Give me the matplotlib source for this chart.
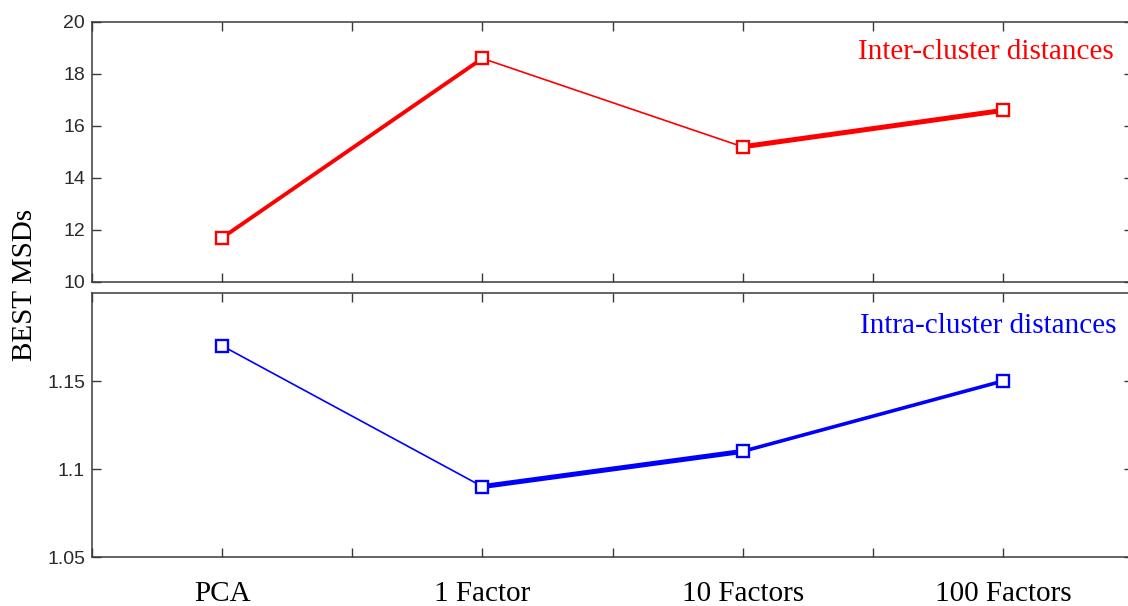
import matplotlib
matplotlib.use("Agg")
import matplotlib.pyplot as plt

categories = ["PCA", "1 Factor", "10 Factors", "100 Factors"]
inter_values = [11.7, 18.6, 15.2, 16.6]
intra_values = [1.17, 1.09, 1.11, 1.15]
inter_label = "Inter-cluster distances"
intra_label = "Intra-cluster distances"
ylabel = "BEST MSDs"
top_yticks = [10, 12, 14, 16, 18, 20]
bottom_yticks = [1.05, 1.1, 1.15]
bottom_yticklabels = ["1.05", "1.1", "1.15"]

# segment line widths (style)
inter_widths = [2.8, 1.2, 3.6]
intra_widths = [1.2, 3.6, 2.6]

W, H = 1128, 606
fig = plt.figure(figsize=(W / 100, H / 100), dpi=100)

def px_axes(left, top, right, bottom):
    return fig.add_axes([left / W, 1 - bottom / H, (right - left) / W, (bottom - top) / H])

ax1 = px_axes(92, 22, 1133, 282)
ax2 = px_axes(92, 293, 1133, 557)

xs = list(range(1, len(categories) + 1))
serif = "Liberation Serif"
sans = "Liberation Sans"
spine_col = "#3a3a3a"

def draw(ax, vals, widths, color):
    for i in range(len(vals) - 1):
        ax.plot(xs[i:i + 2], vals[i:i + 2], color=color, lw=widths[i],
                solid_capstyle="round", zorder=2)
    ax.plot(xs, vals, linestyle="none", marker="s", markersize=9,
            markerfacecolor="white", markeredgecolor=color, markeredgewidth=1.7, zorder=3)

draw(ax1, inter_values, inter_widths, "#ff0000")
draw(ax2, intra_values, intra_widths, "#0000ff")

ticks = [0.5 + 0.5 * i for i in range(9)]
for ax in (ax1, ax2):
    ax.set_xlim(0.5, 4.5)
    ax.set_xticks(ticks)
    ax.tick_params(direction="in", length=6.5, width=1.0, color=spine_col,
                   top=True, right=True, pad=5)
    for s in ax.spines.values():
        s.set_color(spine_col)
        s.set_linewidth(1.1)

ax1.set_ylim(10, 20)
ax1.set_yticks(top_yticks)
ax1.set_yticklabels([str(v) for v in top_yticks], family=sans, fontsize=14, color="#2a2a2a")
ax1.tick_params(axis="x", labelbottom=False)

ax2.set_ylim(1.05, 1.2)
ax2.set_yticks(bottom_yticks)
ax2.set_yticklabels(bottom_yticklabels, family=sans, fontsize=14, color="#2a2a2a")
ax2.set_xticklabels([categories[int(t) - 1] if t == int(t) and 1 <= t <= 4 else "" for t in ticks],
                    family=serif, fontsize=21, color="black")
ax2.tick_params(axis="x", pad=17)

fig.text(1114 / W, 1 - 52 / H, inter_label, color="#ff0000", family=serif, fontsize=21,
         ha="right", va="center")
fig.text(1116 / W, 1 - 326 / H, intra_label, color="#0000ff", family=serif, fontsize=21,
         ha="right", va="center")
fig.text(25 / W, 1 - 285 / H, ylabel, rotation=90, family=serif, fontsize=21,
         ha="center", va="center", color="black")

fig.savefig("out.png", dpi=100)
